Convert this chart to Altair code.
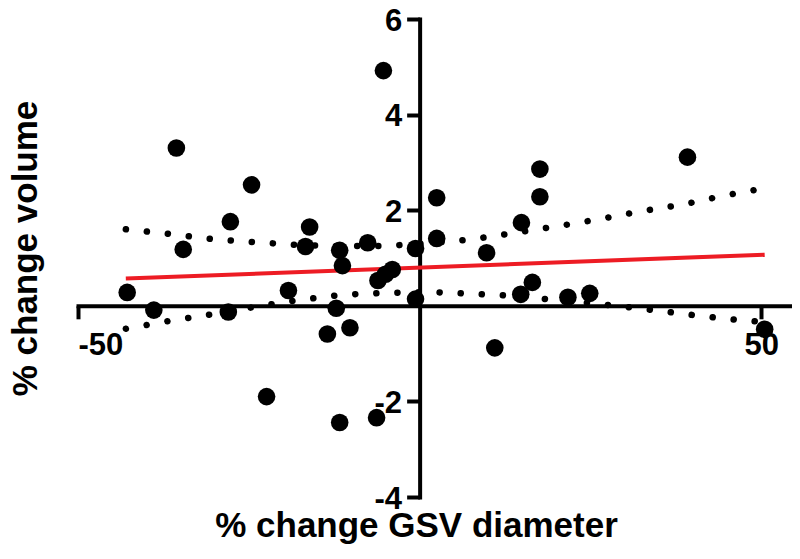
import altair as alt
import pandas as pd

# scatter data (% change GSV diameter, % change volume)
x_vals = [-42.8, -38.9, -35.6, -34.6, -28.0, -27.7, -24.6, -22.4, -19.2, -16.7,
          -16.1, -13.5, -12.2, -11.7, -11.3, -11.7, -10.2, -7.6, -6.1, -5.0,
          -4.0, -6.3, -5.3, -0.6, -0.6, 2.5, 2.5, 9.8, 11.0, 14.9,
          14.8, 16.5, 17.6, 17.6, 21.7, 24.9, 39.2, 50.5]
y_vals = [0.28, -0.09, 3.30, 1.18, -0.13, 1.76, 2.53, -1.90, 0.32, 1.24,
          1.65, -0.59, -0.05, 1.16, 0.84, -2.44, -0.46, 1.32, 0.53, 0.66,
          0.76, -2.34, 4.92, 0.14, 1.20, 2.26, 1.41, 1.11, -0.88, 1.74,
          0.24, 0.49, 2.28, 2.86, 0.18, 0.26, 3.11, -0.49]

# regression line
fit_x = [-43.0, 50.5]
fit_y = [0.57, 1.07]

# confidence bands (dotted)
band_x = [-43.0, -36.4, -30.1, -24.0, -17.7, -11.4, -5.0, 1.3, 7.6, 13.7,
          20.0, 26.2, 32.5, 38.6, 44.7, 50.5]
upper_y = [1.60, 1.50, 1.39, 1.33, 1.27, 1.25, 1.25, 1.31, 1.39, 1.52,
           1.66, 1.81, 1.98, 2.12, 2.31, 2.46]
lower_y = [-0.48, -0.31, -0.17, -0.02, 0.12, 0.23, 0.27, 0.29, 0.25, 0.21,
           0.12, 0.04, -0.06, -0.17, -0.27, -0.34]

x_ticks = [-50, 50]
y_ticks = [-4, -2, 2, 4, 6]
x_domain = [-50, 54.5]
y_domain = [-4, 6]

W, H = 714, 478
x_zero = W * (0 - x_domain[0]) / (x_domain[1] - x_domain[0])
y_zero = H * (y_domain[1] - 0) / (y_domain[1] - y_domain[0])

FONT = "Liberation Sans"

pts = pd.DataFrame({"x": x_vals, "y": y_vals})
fit = pd.DataFrame({"x": fit_x, "y": fit_y})
bands = pd.DataFrame({
    "x": band_x + band_x,
    "y": upper_y + lower_y,
    "band": ["upper"] * len(band_x) + ["lower"] * len(band_x),
})

x_axis = alt.Axis(
    values=x_ticks, orient="bottom", offset=-(H - y_zero),
    labelExpr="'' + datum.value", labelPadding=12,
    title="% change GSV diameter", titleX=338, titleY=H - y_zero + 39,
    titleAlign="center", titleBaseline="alphabetic",
)
y_axis = alt.Axis(
    values=y_ticks, orient="left", offset=-x_zero,
    labelExpr="'' + datum.value", labelPadding=5, labelOffset=2,
    title="% change volume", titleX=-(x_zero + 53), titleY=229,
    titleAngle=-90, titleAlign="center", titleBaseline="middle",
)

X = alt.X("x:Q", scale=alt.Scale(domain=x_domain, nice=False, zero=False), axis=x_axis)
Y = alt.Y("y:Q", scale=alt.Scale(domain=y_domain, nice=False, zero=False), axis=y_axis)

band_layer = alt.Chart(bands).mark_line(
    color="black", strokeWidth=6.5, strokeDash=[0.1, 21], strokeCap="round"
).encode(x=X, y=Y, detail="band:N")

fit_layer = alt.Chart(fit).mark_line(color="#ED1C24", strokeWidth=4).encode(x=X, y=Y)

pt_layer = alt.Chart(pts).mark_circle(size=310, color="black", opacity=1).encode(x=X, y=Y)

chart = alt.layer(band_layer, fit_layer, pt_layer).properties(
    width=W, height=H,
    autosize="none",
    padding={"left": 70, "top": 11, "right": 0, "bottom": 54},
).configure_view(stroke=None).configure_axis(
    grid=False,
    domainColor="black", domainWidth=4, domainCap="square",
    tickColor="black", tickWidth=4, tickSize=13,
    labelFont=FONT, labelFontSize=31, labelFontWeight="bold", labelColor="black",
    titleFont=FONT, titleFontSize=35, titleFontWeight="bold", titleColor="black",
)

chart.save("out.html", embed_options={"renderer": "svg", "actions": False})
